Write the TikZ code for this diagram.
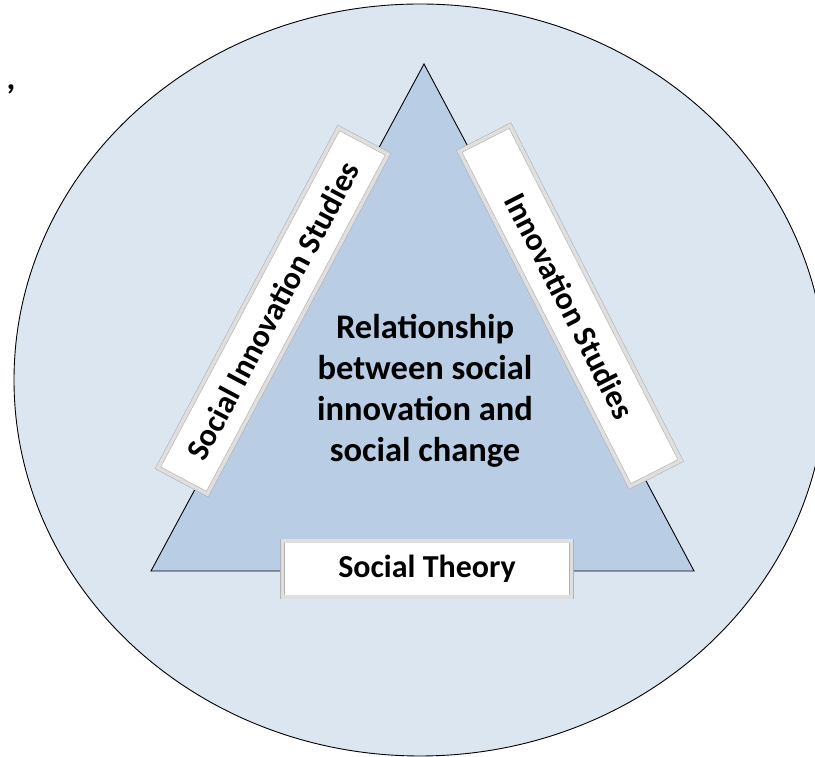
\documentclass[tikz,border=0pt]{standalone}
\usepackage{fontspec}
\setmainfont{Carlito}
\usetikzlibrary{positioning}
\definecolor{outerblue}{HTML}{DCE6F1}
\definecolor{innerblue}{HTML}{B9CDE5}
\begin{document}
\begin{tikzpicture}[x=1pt,y=1pt,font=\bfseries,
    bar/.style={rectangle,draw=gray!60,double=gray!25,double distance=3.5pt,line width=.6pt,fill=white,
        inner sep=0pt,font=\fontsize{32}{32}\bfseries}]
                \useasboundingbox (0,0) rectangle (815,757);
                \draw[fill=outerblue,line width=.9pt] (420,377) ellipse [x radius=406,y radius=376];
                \node[font=\fontsize{34}{34}\bfseries] (comma) at (11,668) {,};
                \draw[fill=innerblue,line width=.9pt] (151,186) -- (424,693) -- (694,186) --cycle;
                \node[align=center,font=\fontsize{34.5}{41}\bfseries] (core) at (425,366)
                    {Relationship\\between social\\innovation and\\social change};
                \node[bar,minimum width=385,minimum height=56,rotate=62] (sis) at (273,446) {Social Innovation Studies};
                \node[bar,minimum width=376,minimum height=57,rotate=-63] (is) at (570,451) {Innovation Studies};
                \node[bar,minimum width=289,minimum height=56] (st) at (427,188) {Social Theory};
            \end{tikzpicture}
\end{document}
